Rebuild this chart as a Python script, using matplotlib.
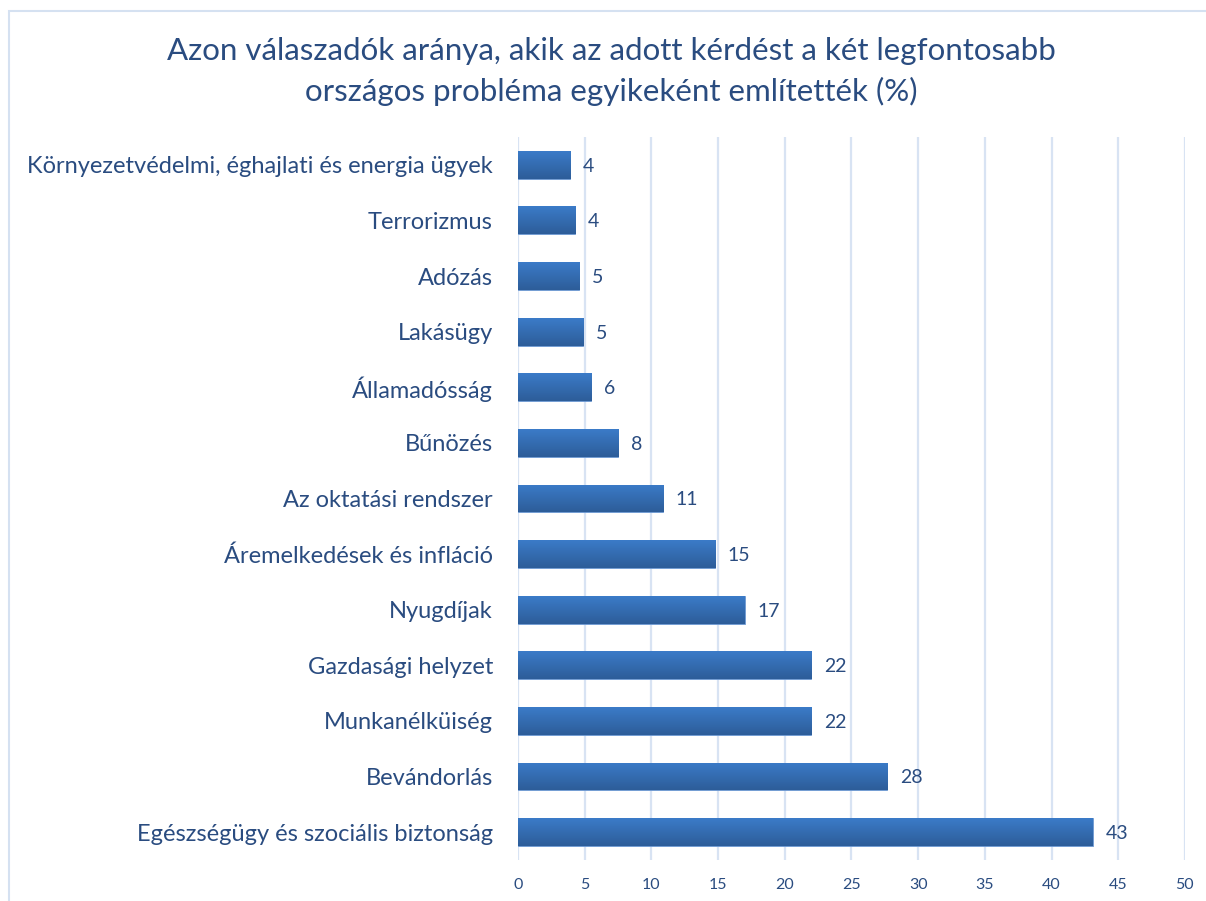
import numpy as np
import matplotlib.pyplot as plt
from matplotlib.patches import Rectangle
from matplotlib.colors import LinearSegmentedColormap

# categories top to bottom
categories = ['Környezetvédelmi, éghajlati és energia ügyek', 'Terrorizmus', 'Adózás',
              'Lakásügy', 'Államadósság', 'Bűnözés', 'Az oktatási rendszer',
              'Áremelkedések és infláció', 'Nyugdíjak', 'Gazdasági helyzet',
              'Munkanélküiség', 'Bevándorlás', 'Egészségügy és szociális biztonság']
values = [3.9, 4.3, 4.6, 4.9, 5.5, 7.5, 10.9, 14.8, 17.0, 22.0, 22.0, 27.7, 43.1]
value_labels = ['4', '4', '5', '5', '6', '8', '11', '15', '17', '22', '22', '28', '43']
xticks = [0, 5, 10, 15, 20, 25, 30, 35, 40, 45, 50]

title = ('Azon válaszadók aránya, akik az adott kérdést a két legfontosabb\n'
         'országos probléma egyikeként említették (%)')

text_col = '#2A4C80'
grid_col = '#D8E3F3'

plt.rcParams['font.family'] = ['Lato', 'DejaVu Sans']

fig = plt.figure(figsize=(12.06, 9.01), dpi=100)
ax = fig.add_axes([0.4295, 0.0455, 0.553, 0.8025])

# light chart border
fig.patches.append(Rectangle((9 / 1206, -0.1), 1.2, 1 - 11 / 901 + 0.1,
                             transform=fig.transFigure, fill=False,
                             edgecolor='#D5E1F1', linewidth=1.5))

y = np.arange(len(categories))
bars = ax.barh(y, values, height=0.5, color='#3468AE', edgecolor='#6E9AD3',
               linewidth=0.6, zorder=3)

# vertical gradient inside each bar
grad = np.linspace(0, 1, 64).reshape(-1, 1)
cmap = LinearSegmentedColormap.from_list('barg', ['#3B7BC8', '#2D5D99'])
for b in bars:
    x0, y0 = b.get_x(), b.get_y()
    im = ax.imshow(grad, extent=[x0, x0 + b.get_width(), y0 + b.get_height(), y0],
                   cmap=cmap, aspect='auto', zorder=3.5, interpolation='bicubic')
    im.set_clip_path(b)

for i, (v, lab) in enumerate(zip(values, value_labels)):
    ax.annotate(lab, (v, i), xytext=(9, -1), textcoords='offset points',
                va='center', ha='left', fontsize=14, color=text_col)

ax.set_ylim(len(categories) - 0.5, -0.5)
ax.set_xlim(0, 50)
ax.set_xticks(xticks)
ax.set_yticks(y)
ax.set_yticklabels(categories, fontsize=17, color=text_col)
ax.tick_params(axis='x', length=0, pad=13, labelsize=11.5, labelcolor=text_col)
ax.tick_params(axis='y', length=0, pad=18)
ax.grid(axis='x', color=grid_col, linewidth=1.6, zorder=0)
ax.set_axisbelow(True)
for s in ax.spines.values():
    s.set_visible(False)

fig.text(0.507, 0.921, title, ha='center', va='center', fontsize=22.5,
         color=text_col, linespacing=1.5)

fig.savefig('out.png', dpi=100, facecolor='white')
